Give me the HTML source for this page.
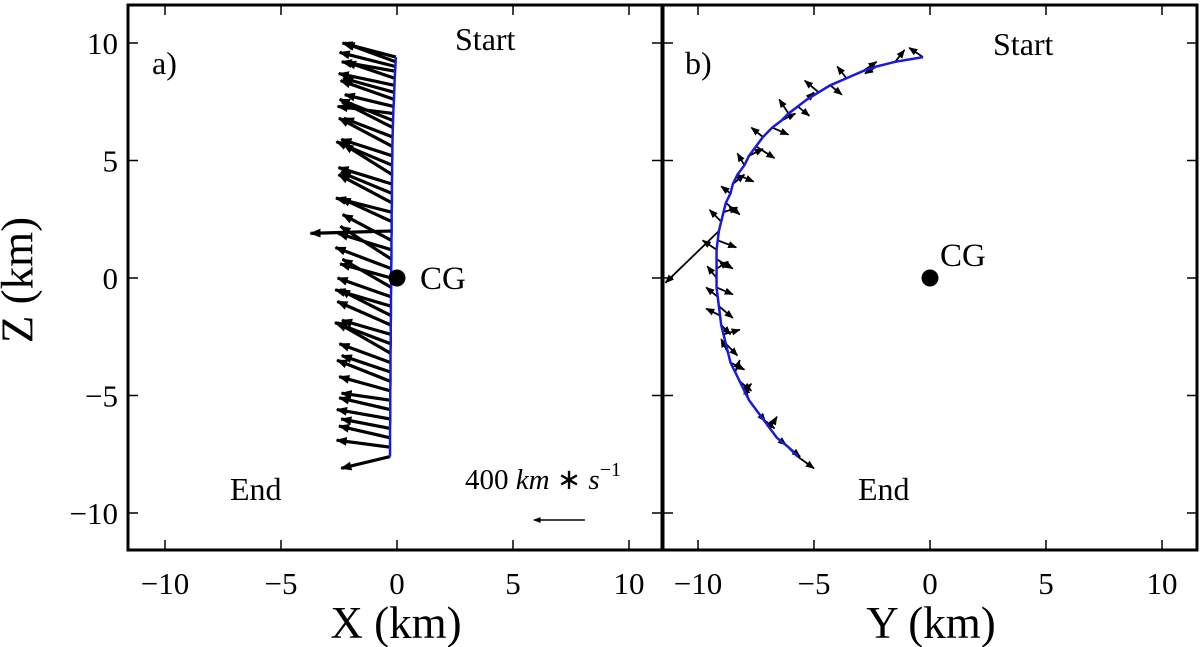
<!DOCTYPE html>
<html><head><meta charset="utf-8"><style>
html,body{margin:0;padding:0;background:#fff;}
svg{display:block;font-family:"Liberation Serif",serif;}
</style></head><body>
<svg id="chart" width="1200" height="647" viewBox="0 0 1200 647" xmlns="http://www.w3.org/2000/svg">
<defs>
<marker id="ah" viewBox="0 0 10 10" refX="9" refY="5" markerWidth="3.5" markerHeight="3.5" orient="auto"><path d="M0,1 L10,5 L0,9 z" fill="#000"/></marker>
<marker id="ah2" viewBox="0 0 10 10" refX="9" refY="5" markerWidth="5" markerHeight="5" orient="auto"><path d="M0,1 L10,5 L0,9 z" fill="#000"/></marker>
</defs>
<g id="pa"></g>
<g id="pb"></g>
<text x="22" y="280" font-size="45" text-anchor="middle" transform="rotate(-90 22 280)" dominant-baseline="middle">Z (km)</text>
<text x="396" y="638" font-size="45" text-anchor="middle">X (km)</text>
<text x="931" y="638" font-size="45" text-anchor="middle">Y (km)</text>
<text x="152" y="74" font-size="32">a)</text>
<text x="685" y="74" font-size="32">b)</text>
<text x="455" y="50" font-size="32">Start</text>
<text x="993" y="55" font-size="32">Start</text>
<text x="230" y="500" font-size="32">End</text>
<text x="858" y="500" font-size="32">End</text>
<text x="420" y="289" font-size="33">CG</text>
<text x="940" y="266" font-size="33">CG</text>
<text x="465" y="489" font-size="29">400 <tspan font-style="italic">km</tspan> ∗ <tspan font-style="italic">s</tspan><tspan dy="-13" font-size="20">−1</tspan></text>
</svg>
<script>
const xTicks=[-10,-5,0,5,10];
const yTicks=[-10,-5,0,5,10];
const tickLabels=["−10","−5","0","5","10"];
const trajZ=[9.4,9.2,9.0,8.8,8.5,8.2,7.9,7.6,7.3,7.0,6.7,6.4,6.0,5.6,5.2,4.8,4.4,4.0,3.6,3.2,2.8,2.4,2.0,1.6,1.2,0.8,0.4,0.0,-0.4,-0.8,-1.2,-1.6,-2.0,-2.4,-2.8,-3.2,-3.6,-4.0,-4.4,-4.8,-5.2,-5.6,-6.0,-6.4,-6.8,-7.2,-7.6];
const trajX=[-0.05,-0.06,-0.07,-0.08,-0.1,-0.11,-0.12,-0.13,-0.15,-0.16,-0.17,-0.18,-0.19,-0.2,-0.2,-0.21,-0.21,-0.22,-0.22,-0.22,-0.23,-0.23,-0.23,-0.24,-0.24,-0.24,-0.25,-0.25,-0.25,-0.26,-0.26,-0.26,-0.27,-0.27,-0.27,-0.28,-0.28,-0.28,-0.28,-0.29,-0.29,-0.29,-0.29,-0.3,-0.3,-0.3,-0.3];
const trajY=[-0.3,-1.5,-2.3,-2.9,-3.6,-4.3,-4.8,-5.3,-5.7,-6.1,-6.4,-6.8,-7.2,-7.5,-7.8,-8.0,-8.3,-8.5,-8.6,-8.8,-8.9,-9.0,-9.1,-9.15,-9.2,-9.2,-9.2,-9.2,-9.2,-9.15,-9.1,-9.05,-9.0,-8.9,-8.8,-8.7,-8.6,-8.4,-8.2,-8.0,-7.8,-7.5,-7.2,-6.9,-6.6,-6.1,-5.7];
const velU=[-2.3,-2.2,-2.4,-2.3,-2.1,-2.4,-2.2,-2.3,-2.1,-2.4,-2.3,-2.2,-2.1,-2.3,-2.2,-2.4,-2.1,-2.3,-2.2,-2.3,-2.4,-2.2,-3.5,-2.1,-2.3,-2.2,-2.4,-2.2,-2.1,-2.3,-2.4,-2.2,-2.3,-2.1,-2.4,-2.3,-2.2,-2.1,-2.3,-2.2,-2.1,-2.2,-2.3,-2.1,-2.2,-2.3,-2.1];
const velWa=[0.6,0.8,0.6,0.4,0.7,0.5,0.6,0.8,0.5,0.3,0.9,1.1,0.8,1.2,0.7,1.0,1.3,0.7,0.9,1.2,0.6,1.0,-0.1,1.1,0.7,1.4,0.9,0.6,1.2,0.8,0.7,1.1,1.0,0.6,0.9,1.3,0.8,0.7,0.9,0.6,0.3,0.5,0.4,0.4,0.5,0.3,-0.5];
const velV=[-0.6,0.4,-0.5,0.6,-0.4,0.5,-0.6,0.3,0.5,-0.4,0.6,0.7,-0.5,0.8,0.6,-0.3,0.7,0.5,-0.4,0.6,0.6,-0.5,-2.3,0.8,-0.6,0.7,0.5,-0.4,0.7,-0.5,0.6,-0.6,0.4,0.7,0.5,-0.3,0.6,0.2,0.5,0.3,-0.2,0.4,0.5,0.3,0.4,0.5,0.7];
const velW=[0.4,0.5,-0.3,0.4,0.5,-0.4,0.5,0.3,-0.4,0.6,0.3,-0.3,0.4,-0.5,0.3,0.5,-0.3,0.4,0.3,-0.5,0.2,0.5,-2.2,-0.3,0.4,-0.4,0.3,0.5,-0.3,0.4,-0.5,0.3,-0.4,0.2,-0.5,0.6,-0.3,0.5,-0.4,0.3,0.6,-0.5,-0.4,0.5,-0.3,-0.4,-0.5];
const NS='http://www.w3.org/2000/svg';
const panels=[{g:'pa',x0:128,x1:662,key:'x'},{g:'pb',x0:663,x1:1197,key:'y'}];
const Y0=5,Y1=550;
function sy(v){return 278-v*23.5;}
function mk(t,a,p){const e=document.createElementNS(NS,t);for(const k in a)e.setAttribute(k,a[k]);p.appendChild(e);return e;}
panels.forEach((P,pi)=>{
 const g=document.getElementById(P.g);
 const zero=pi===0?397:930;
 const sx=v=>zero+v*23.2;
 const pos=trajZ.map((z,i)=>[P.key==='x'?trajX[i]:trajY[i],z]);
 pos.forEach((p,i)=>{
  const d=P.key==='x'?velU[i]:velV[i];
  const w=P.key==='x'?velWa[i]:velW[i];
  const a=mk('line',{x1:sx(p[0]),y1:sy(p[1]),x2:sx(p[0]+d),y2:sy(p[1]+w),stroke:'#000','stroke-width':pi===0?3.2:1.8,'marker-end':pi===0?'url(#ah)':'url(#ah2)'},g);
  
  
 });
 const pl=mk('polyline',{points:pos.map(p=>sx(p[0])+','+sy(p[1])).join(' '),fill:'none',stroke:'#1a1adc','stroke-width':2.5},g);
 
 
 const cg=mk('circle',{cx:sx(0),cy:sy(0),r:8.5,fill:'#000'},g);
 
 
 xTicks.forEach((t,i)=>{
  const x=sx(t);
  const a=mk('line',{x1:x,y1:Y1,x2:x,y2:Y1-10,stroke:'#000','stroke-width':1.5},g);
  
  
  const b=mk('line',{x1:x,y1:Y0,x2:x,y2:Y0+10,stroke:'#000','stroke-width':1.5},g);
  
  
  const l=mk('text',{x:x,y:594,'font-size':31,'text-anchor':'middle'},g);
  l.textContent=tickLabels[i];
  
  
 });
 yTicks.forEach((t,i)=>{
  const y=sy(t);
  const a=mk('line',{x1:P.x0,y1:y,x2:P.x0+10,y2:y,stroke:'#000','stroke-width':1.5},g);
  
  
  const b=mk('line',{x1:P.x1,y1:y,x2:P.x1-10,y2:y,stroke:'#000','stroke-width':1.5},g);
  
  
  if(pi===0){
   const l=mk('text',{x:118,y:y+11,'font-size':31,'text-anchor':'end'},g);
   l.textContent=tickLabels[i];
   
   
  }
 });
 const fr=mk('rect',{x:P.x0,y:Y0,width:P.x1-P.x0,height:Y1-Y0,fill:'none',stroke:'#000','stroke-width':3},g);
 
 
 if(pi===0){
  const s=mk('line',{x1:sx(8.1),y1:sy(-10.3),x2:sx(8.1-2.2),y2:sy(-10.3),stroke:'#000','stroke-width':1.5,'marker-end':'url(#ah2)'},g);
  
  
 }
});
</script>
</body></html>
